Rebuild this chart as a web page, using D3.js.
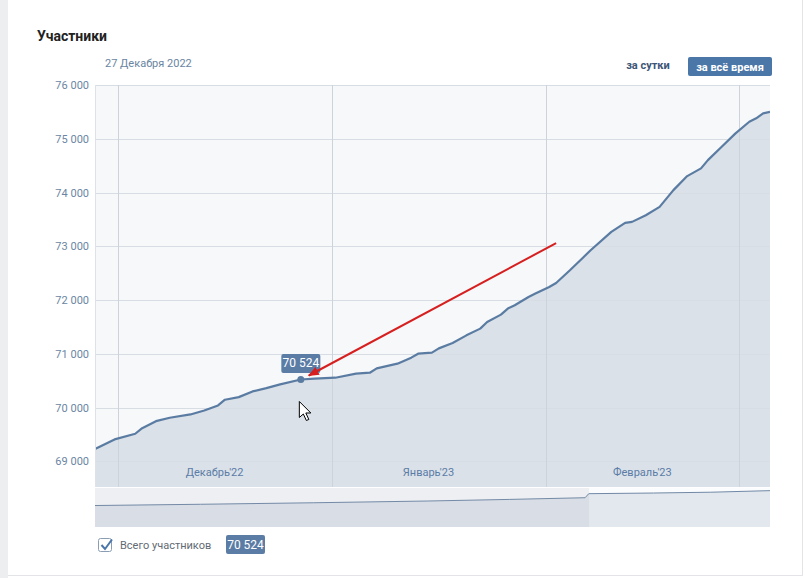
<!DOCTYPE html>
<html>
<head>
<meta charset="utf-8">
<script src="https://cdn.jsdelivr.net/npm/d3@7"></script>
<style>
	body { margin: 0; background: #fff; }
	svg text { font-family: Roboto, "Open Sans", sans-serif; }
</style>
</head>
<body>
<svg id="chart" width="805" height="578"></svg>
<script>
// members per day (points sit at noon of each date)
var dates = ['2022-11-27','2022-11-30','2022-12-03','2022-12-04','2022-12-06','2022-12-08','2022-12-11','2022-12-13',
	'2022-12-15','2022-12-16','2022-12-18','2022-12-20','2022-12-22','2022-12-24','2022-12-27','2022-12-29',
	'2023-01-01','2023-01-04','2023-01-06','2023-01-07','2023-01-10','2023-01-12','2023-01-13','2023-01-15',
	'2023-01-16','2023-01-18','2023-01-20','2023-01-22','2023-01-23','2023-01-25','2023-01-26','2023-01-27',
	'2023-01-29','2023-01-30','2023-02-01','2023-02-02','2023-02-04','2023-02-06','2023-02-07','2023-02-10',
	'2023-02-12','2023-02-13','2023-02-15','2023-02-17','2023-02-19','2023-02-21','2023-02-23','2023-02-24',
	'2023-02-26','2023-02-28','2023-03-02','2023-03-03','2023-03-04','2023-03-05'];
var members = [69220, 69410, 69515, 69619, 69749, 69812, 69874, 69948,
	70042, 70148, 70196, 70302, 70364, 70433, 70524, 70539,
	70557, 70632, 70650, 70731, 70818, 70930, 71004, 71023,
	71103, 71202, 71345, 71470, 71593, 71730, 71842, 71904,
	72058, 72121, 72244, 72319, 72555, 72803, 72928, 73268,
	73436, 73455, 73579, 73734, 74045, 74306, 74449, 74603,
	74851, 75101, 75317, 75380, 75473, 75500];

// navigator (whole year)
var navDates = ['2022-03-05','2022-05-01','2022-07-01','2022-09-01','2022-10-15','2022-11-25','2022-11-27','2023-01-01','2023-02-01','2023-03-05'];
var navMembers = [44600, 47200, 50300, 54000, 57300, 60800, 69220, 70557, 72244, 75500];

var yTicks = [69000, 70000, 71000, 72000, 73000, 74000, 75000, 76000];
var monthNames = ["Декабрь'22", "Январь'23", "Февраль'23"];
var monthLabelDates = ['2022-12-15', '2023-01-15', '2023-02-15'];

var hoverDate = '2022-12-27';
var hoverValue = 70524;
var hoverTitle = '27 Декабря 2022';
var arrowTail = {date: '2023-02-02', value: 73060};

var parse = d3.timeParse('%Y-%m-%d');
var noon = s => d3.timeHour.offset(parse(s), 12);
var fmt = d3.formatLocale({decimal: ',', thousands: ' ', grouping: [3], currency: ['', '']}).format(',d');

var pLeft = 95, pRight = 770, pTop = 85, pBottom = 487;
var navTop = 488, navBottom = 527;

let data = dates.map((d, i) => ({date: noon(d), val: members[i]}));
let navData = navDates.map((d, i) => ({date: noon(d), val: navMembers[i]}));

let x = d3.scaleTime()
	.domain([new Date(2022, 10, 27, 16), new Date(2023, 2, 5, 12)])
	.range([pLeft, pRight]);
let y = d3.scaleLinear()
	.domain([68525, 76000])
	.range([pBottom, pTop]);
let nx = d3.scaleTime()
	.domain([new Date(2022, 2, 5, 12), new Date(2023, 2, 5, 12)])
	.range([pLeft, pRight]);
let ny = d3.scaleLinear()
	.domain([0, 81000])
	.range([navBottom, navTop]);

let svg = d3.select('#chart');

// page frame
svg.append('rect').attr('x', 0).attr('y', 0).attr('width', 8).attr('height', 578).style('fill', '#edeef0');
svg.append('line').attr('x1', 802.5).attr('x2', 802.5).attr('y1', 0).attr('y2', 576).style('stroke', '#e3e4e8');
svg.append('line').attr('x1', 8).attr('x2', 803).attr('y1', 575.5).attr('y2', 575.5).style('stroke', '#e3e4e8');

// header
svg.append('text').attr('x', 37).attr('y', 40.5).text('Участники')
	.style('font-size', '14px').style('font-weight', 'bold').style('fill', '#222');
svg.append('text').attr('x', 105).attr('y', 67).text(hoverTitle)
	.style('font-size', '11px').style('fill', '#6a85a2');
svg.append('text').attr('x', 648).attr('y', 69).attr('text-anchor', 'middle').text('за сутки')
	.style('font-size', '11px').style('font-weight', 'bold').style('fill', '#3d5677');
svg.append('rect').attr('x', 688).attr('y', 57).attr('width', 84).attr('height', 19).attr('rx', 2)
	.style('fill', '#4a76a8');
svg.append('text').attr('x', 730).attr('y', 70.5).attr('text-anchor', 'middle').text('за всё время')
	.style('font-size', '11px').style('font-weight', 'bold').style('fill', '#fff');

// plot background + clip
svg.append('clipPath').attr('id', 'plotClip').append('rect')
	.attr('x', pLeft).attr('y', pTop).attr('width', pRight - pLeft).attr('height', pBottom - pTop);
svg.append('rect')
	.attr('x', pLeft).attr('y', pTop).attr('width', pRight - pLeft).attr('height', pBottom - pTop)
	.style('fill', '#f7f8fa');

let plot = svg.append('g').attr('clip-path', 'url(#plotClip)');

// area
plot.append('path').datum(data)
	.attr('d', d3.area().x(d => x(d.date)).y0(pBottom).y1(d => y(d.val)))
	.style('fill', '#dae1e9');

// grid
plot.append('g').selectAll('line').data(yTicks).join('line')
	.attr('x1', pLeft).attr('x2', pRight)
	.attr('y1', d => Math.round(y(d)) + 0.5).attr('y2', d => Math.round(y(d)) + 0.5)
	.style('stroke', '#d8dde3');
plot.append('g').selectAll('line').data(d3.timeMonth.range(x.domain()[0], x.domain()[1])).join('line')
	.attr('x1', d => Math.round(x(d)) + 0.5).attr('x2', d => Math.round(x(d)) + 0.5)
	.attr('y1', pTop).attr('y2', pBottom)
	.style('stroke', '#ccd3db');
svg.append('line').attr('x1', pLeft + 0.5).attr('x2', pLeft + 0.5).attr('y1', pTop).attr('y2', pBottom)
	.style('stroke', '#dde2e8');

// line
plot.append('path').datum(data)
	.attr('d', d3.line().x(d => x(d.date)).y(d => y(d.val)))
	.style('fill', 'none').style('stroke', '#5b7ca2').style('stroke-width', 2.2)
	.style('stroke-linejoin', 'round');

// month labels
svg.append('g').selectAll('text').data(monthNames).join('text')
	.attr('x', (d, i) => x(parse(monthLabelDates[i])))
	.attr('y', 476)
	.attr('text-anchor', 'middle')
	.text(d => d)
	.style('font-size', '11px').style('fill', '#5a7ca6');

// y axis
let yaxis = svg.append('g').attr('transform', 'translate(' + pLeft + ',0)')
	.call(d3.axisLeft(y).tickValues(yTicks).tickSize(0).tickPadding(6).tickFormat(fmt));
yaxis.select('.domain').remove();
yaxis.selectAll('text').style('font-size', '11px').style('fill', '#6b86a3')
	.style('font-family', 'Roboto, sans-serif');

// navigator
svg.append('rect').attr('x', pLeft).attr('y', navTop).attr('width', pRight - pLeft).attr('height', navBottom - navTop)
	.style('fill', '#fbfcfd');
svg.append('path').datum(navData)
	.attr('d', d3.area().x(d => nx(d.date)).y0(navBottom).y1(d => ny(d.val)))
	.style('fill', '#e3e8ee');
svg.append('path').datum(navData)
	.attr('d', d3.line().x(d => nx(d.date)).y(d => ny(d.val)))
	.style('fill', 'none').style('stroke', '#7189a6').style('stroke-width', 1);
svg.append('rect')
	.attr('x', pLeft).attr('y', navTop)
	.attr('width', nx(x.domain()[0]) - pLeft).attr('height', navBottom - navTop)
	.style('fill', '#8898ab').style('opacity', 0.12);

// hovered point + tooltip
let hx = x(noon(hoverDate)), hy = y(hoverValue);
svg.append('circle').attr('cx', hx).attr('cy', hy).attr('r', 3.5).style('fill', '#5b7ca2');
svg.append('rect').attr('x', hx - 19.5).attr('y', hy - 25.5).attr('width', 39).attr('height', 19).attr('rx', 2)
	.style('fill', '#5b7ca5');
svg.append('text').attr('x', hx).attr('y', hy - 12).attr('text-anchor', 'middle').text(fmt(hoverValue))
	.style('font-size', '12px').style('fill', '#fff');

// red arrow annotation
svg.append('defs').append('marker')
	.attr('id', 'head').attr('markerUnits', 'userSpaceOnUse')
	.attr('viewBox', '0 0 10 10').attr('refX', 9).attr('refY', 5)
	.attr('markerWidth', 11).attr('markerHeight', 11).attr('orient', 'auto')
	.append('path').attr('d', 'M0,1 L10,5 L0,9 Z').style('fill', '#d61f1f');
svg.append('line')
	.attr('x1', x(noon(arrowTail.date))).attr('y1', y(arrowTail.value))
	.attr('x2', hx + 8).attr('y2', hy - 4)
	.attr('marker-end', 'url(#head)')
	.style('stroke', '#d61f1f').style('stroke-width', 2);

// mouse cursor
svg.append('path')
	.attr('transform', 'translate(' + (hx - 1.5) + ',' + (hy + 22) + ')')
	.attr('d', 'M0,0 L0,16 L4,12.5 L7,19 L9.5,18 L6.5,11.5 L11.5,11.5 Z')
	.style('fill', '#fff').style('stroke', '#000').style('stroke-width', 1);

// legend
svg.append('rect').attr('x', 98.5).attr('y', 538.5).attr('width', 13).attr('height', 13).attr('rx', 2)
	.style('fill', '#fff').style('stroke', '#8a9db3');
svg.append('path').attr('d', 'M101.5,545 L105,549 L112,539.5')
	.style('fill', 'none').style('stroke', '#4a76a8').style('stroke-width', 2);
svg.append('text').attr('x', 120).attr('y', 548.5).text('Всего участников')
	.style('font-size', '11px').style('fill', '#626a73');
svg.append('rect').attr('x', 226).attr('y', 535).attr('width', 39).attr('height', 19).attr('rx', 2)
	.style('fill', '#5b7ca5');
svg.append('text').attr('x', 245.5).attr('y', 548.5).attr('text-anchor', 'middle').text(fmt(hoverValue))
	.style('font-size', '12px').style('fill', '#fff');
</script>
</body>
</html>
